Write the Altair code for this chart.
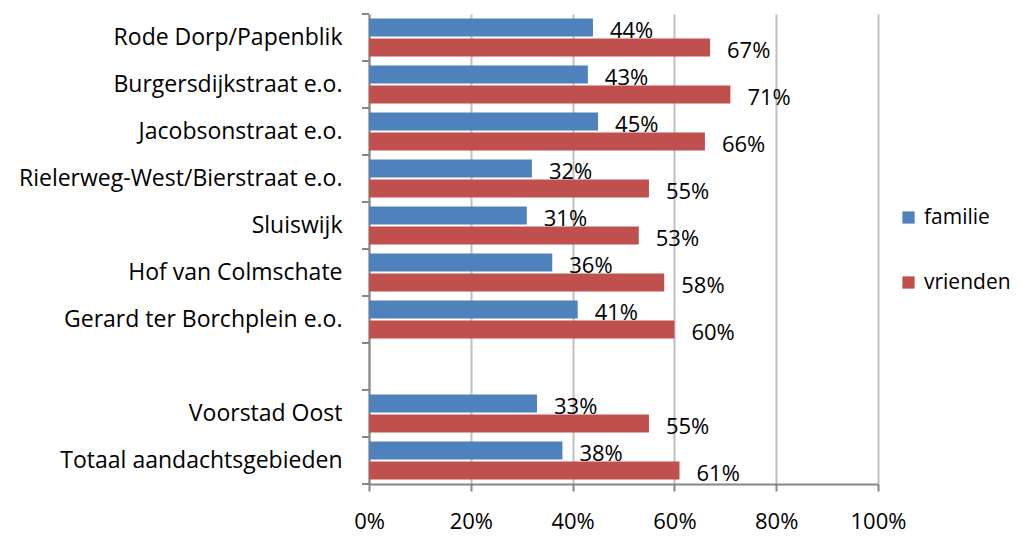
import altair as alt
import pandas as pd

categories = ["Rode Dorp/Papenblik", "Burgersdijkstraat e.o.", "Jacobsonstraat e.o.",
              "Rielerweg-West/Bierstraat e.o.", "Sluiswijk", "Hof van Colmschate",
              "Gerard ter Borchplein e.o.", " ", "Voorstad Oost", "Totaal aandachtsgebieden"]
familie = [44, 43, 45, 32, 31, 36, 41, None, 33, 38]
vrienden = [67, 71, 66, 55, 53, 58, 60, None, 55, 61]
series = ["familie", "vrienden"]
colors = ["#4F81BD", "#C0504D"]
x_ticks = [0, 20, 40, 60, 80, 100]

rows = []
for c, f, v in zip(categories, familie, vrienden):
    if f is not None:
        rows.append({"cat": c, "series": "familie", "value": f, "label": f"{f}%"})
    if v is not None:
        rows.append({"cat": c, "series": "vrienden", "value": v, "label": f"{v}%"})
df = pd.DataFrame(rows)
cat_df = pd.DataFrame({"cat": categories})
last_df = pd.DataFrame({"cat": categories[-1:]})

FONT = "Open Sans"
AXIS_GRAY = "#868686"
yscale = alt.Scale(domain=categories, paddingInner=0, paddingOuter=0)
yoff = alt.YOffset("series:N", scale=alt.Scale(domain=series, paddingInner=0.1, paddingOuter=0.225))

bars = alt.Chart(df).mark_bar().encode(
    x=alt.X("value:Q", scale=alt.Scale(domain=[0, 100]),
            axis=alt.Axis(values=x_ticks, labelExpr="datum.value + '%'", title=None,
                          grid=True, gridColor="#C0C0C0", gridWidth=2,
                          domainColor=AXIS_GRAY, domainWidth=2,
                          tickColor=AXIS_GRAY, tickWidth=2, tickSize=7, labelPadding=20,
                          labelFlush=False, labelOverlap=False,
                          labelFontSize=22, labelFont=FONT, labelColor="#000000")),
    y=alt.Y("cat:N", scale=yscale, sort=categories,
            axis=alt.Axis(title=None, ticks=False, domainColor=AXIS_GRAY, domainWidth=2,
                          labelPadding=27,
                          labelFontSize=23, labelFont=FONT, labelColor="#000000",
                          labelLimit=0, grid=False)),
    yOffset=yoff,
    color=alt.Color("series:N", scale=alt.Scale(domain=series, range=colors),
                    legend=alt.Legend(title=None, orient="none", legendX=529, legendY=193,
                                      symbolType="square", symbolSize=150, symbolStrokeWidth=0,
                                      labelFontSize=21, labelFont=FONT, labelColor="#000000",
                                      rowPadding=43, labelOffset=5, labelLimit=0)),
)

text = alt.Chart(df).mark_text(align="left", baseline="middle", dx=17, dy=3,
                               fontSize=22, font=FONT, color="#000000").encode(
    x="value:Q",
    y=alt.Y("cat:N", scale=yscale, sort=categories),
    yOffset=yoff,
    text="label:N",
)

ticks = alt.Chart(cat_df).mark_rule(color=AXIS_GRAY, strokeWidth=2).encode(
    y=alt.Y("cat:N", scale=yscale, sort=categories, bandPosition=0),
    x=alt.value(-7), x2=alt.value(0),
)
ticks_end = alt.Chart(last_df).mark_rule(color=AXIS_GRAY, strokeWidth=2).encode(
    y=alt.Y("cat:N", scale=yscale, sort=categories, bandPosition=1),
    x=alt.value(-7), x2=alt.value(0),
)

chart = alt.layer(bars, text, ticks, ticks_end).properties(
    width=509, height=470,
    autosize=alt.AutoSizeParams(type="none"),
    padding={"left": 361, "top": 6, "right": 134, "bottom": 51},
).configure_view(stroke=None)

chart.save("out.html", embed_options={"renderer": "svg", "actions": False})
